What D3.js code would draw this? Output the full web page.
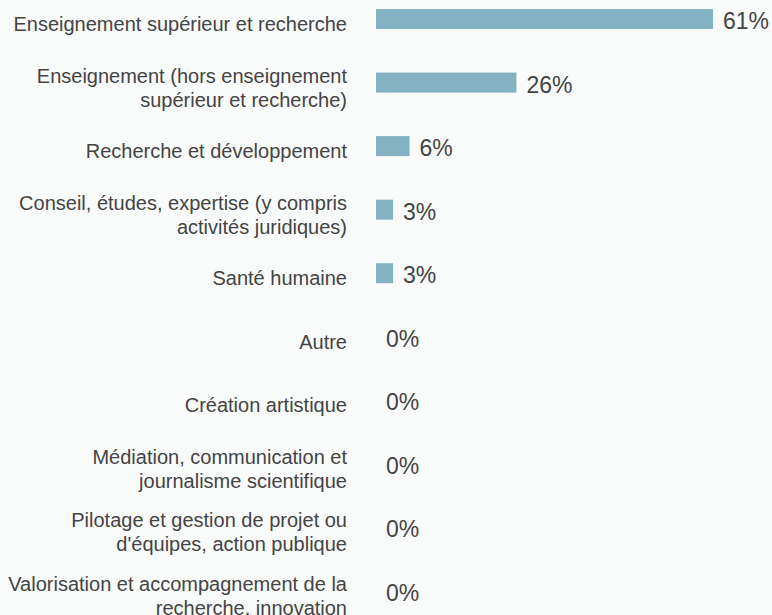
<!DOCTYPE html>
<html>
<head>
<meta charset="utf-8">
<script src="https://cdn.jsdelivr.net/npm/d3@7"></script>
<style>
    body { margin: 0; background: #f9fafa; }
    svg { display: block; font-family: "Liberation Sans", Arial, sans-serif; }
    .label { fill: #444; font-size: 20px; }
    .value { fill: #444; font-size: 23px; }
    .bar { fill: #83b3c3; }
</style>
</head>
<body>
<svg id="bar_chart"></svg>
<script>
// categories (line breaks as in the original chart)
let categories = [
    "Enseignement supérieur et recherche",
    "Enseignement (hors enseignement\nsupérieur et recherche)",
    "Recherche et développement",
    "Conseil, études, expertise (y compris\nactivités juridiques)",
    "Santé humaine",
    "Autre",
    "Création artistique",
    "Médiation, communication et\njournalisme scientifique",
    "Pilotage et gestion de projet ou\nd'équipes, action publique",
    "Valorisation et accompagnement de la\nrecherche, innovation"
];
// share of respondents, %
let values = [61.2, 25.5, 6.1, 3.1, 3.1, 0, 0, 0, 0, 0];

let width = 772;
let height = 615;
let barLeft = 376;
let labelRight = 347;
let barHeight = 20;
let lineHeight = 24;

let svg = d3.select('#bar_chart')
    .attr('width', width)
    .attr('height', height);

let data = categories.map((c, i) => ({name: c, value: values[i]}));

// X Scale
let xScale = d3.scaleLinear()
    .domain([0, d3.max(values)])
    .range([barLeft, 713]);
// Y Scale (row centers)
let yScale = d3.scalePoint()
    .domain(categories)
    .range([19, 591]);

// bars
svg.append('g')
    .selectAll('rect')
    .data(data)
    .enter()
    .append('rect')
    .attr('class', 'bar')
    .attr('x', xScale(0))
    .attr('y', d => yScale(d.name) - barHeight / 2)
    .attr('width', d => xScale(d.value) - xScale(0))
    .attr('height', d => d.value > 0 ? barHeight : 0);

// value labels
svg.append('g')
    .selectAll('text')
    .data(data)
    .enter()
    .append('text')
    .attr('class', 'value')
    .attr('x', d => xScale(d.value) + 10)
    .attr('y', d => yScale(d.name) + 10)
    .text(d => Math.round(d.value) + '%');

// category labels
let labels = svg.append('g')
    .selectAll('text')
    .data(data)
    .enter()
    .append('text')
    .attr('class', 'label')
    .attr('text-anchor', 'end')
    .attr('y', d => {
        let n = d.name.split('\n').length;
        return yScale(d.name) + 12 - (n - 1) * lineHeight / 2;
    });
labels.selectAll('tspan')
    .data(d => d.name.split('\n'))
    .enter()
    .append('tspan')
    .attr('x', labelRight)
    .attr('dy', (d, i) => i ? lineHeight : 0)
    .text(d => d);
</script>
</body>
</html>
